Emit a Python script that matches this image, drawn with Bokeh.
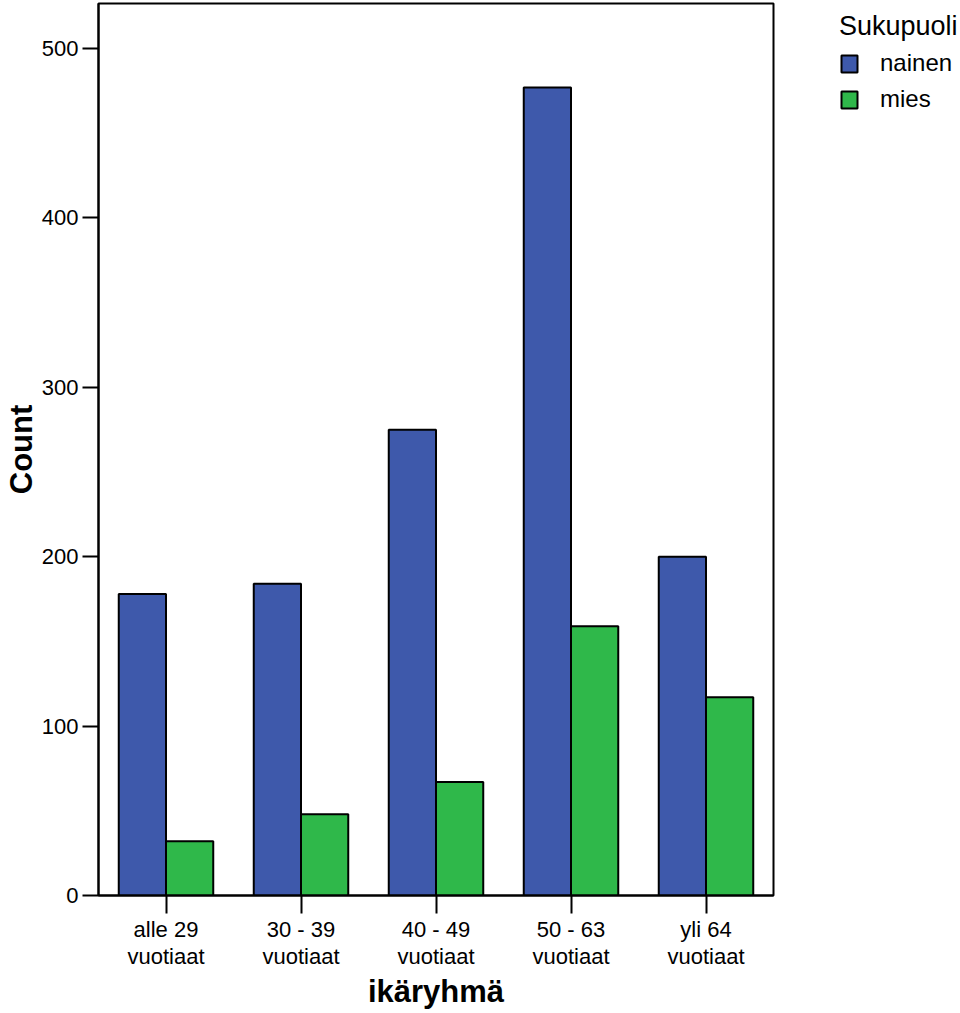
from bokeh.plotting import figure
from bokeh.models import ColumnDataSource, Legend, LegendItem, Range1d, FactorRange
from bokeh.transform import dodge
from bokeh.embed import file_html
from bokeh.resources import INLINE

categories = ["alle 29\nvuotiaat", "30 - 39\nvuotiaat", "40 - 49\nvuotiaat",
              "50 - 63\nvuotiaat", "yli 64\nvuotiaat"]
nainen = [178, 184, 275, 477, 200]
mies = [32, 48, 67, 159, 117]
series_names = ["nainen", "mies"]
colors = ["#3e59ab", "#2fb84a"]
y_ticks = [0, 100, 200, 300, 400, 500]

FONT = "Liberation Sans"

src = ColumnDataSource(dict(cat=categories, nainen=nainen, mies=mies))

p = figure(x_range=FactorRange(factors=categories, range_padding=0),
           y_range=Range1d(0, 526.6),
           frame_width=675, frame_height=892,
           min_border_left=80, min_border_right=180,
           min_border_top=3, min_border_bottom=100,
           output_backend="svg", toolbar_location=None)

bw = 0.35
r1 = p.vbar(x=dodge("cat", -bw / 2, range=p.x_range), top="nainen", width=bw,
            source=src, fill_color=colors[0], line_color="black", line_width=2)
r2 = p.vbar(x=dodge("cat", bw / 2, range=p.x_range), top="mies", width=bw,
            source=src, fill_color=colors[1], line_color="black", line_width=2)

p.xgrid.visible = False
p.ygrid.visible = False
p.outline_line_color = "black"
p.outline_line_width = 2

for ax in (p.xaxis, p.yaxis):
    ax.major_tick_in = 0
    ax.major_tick_line_width = 2
    ax.major_tick_line_color = "black"
    ax.axis_line_width = 2
    ax.axis_line_color = "black"
    ax.major_label_text_font = FONT
    ax.major_label_text_font_size = "22px"
    ax.major_label_text_color = "black"
    ax.axis_label_text_font = FONT
    ax.axis_label_text_font_size = "31px"
    ax.axis_label_text_font_style = "bold"
    ax.axis_label_text_color = "black"

p.yaxis.ticker = y_ticks
p.yaxis.minor_tick_line_color = None
p.yaxis.major_tick_out = 16
p.yaxis.major_label_standoff = 4
p.yaxis.axis_label = "Count"
p.yaxis.axis_label_standoff = 0

p.xaxis.major_tick_out = 18
p.xaxis.major_label_standoff = 3
p.xaxis.major_label_text_line_height = 1.1
p.xaxis.axis_label = "ikäryhmä"
p.xaxis.axis_label_standoff = 2

legend = Legend(items=[LegendItem(label=series_names[0], renderers=[r1]),
                       LegendItem(label=series_names[1], renderers=[r2])],
                title="Sukupuoli", location=(66, 782),
                title_text_font=FONT, title_text_font_size="27px",
                title_text_font_style="normal", title_text_color="black",
                title_standoff=7,
                label_text_font=FONT, label_text_font_size="24px",
                label_text_color="black",
                glyph_width=20, glyph_height=21, spacing=8, label_standoff=21,
                padding=0, margin=0, border_line_color=None,
                background_fill_alpha=0)
p.add_layout(legend, "right")

open("out.html", "w").write(file_html(p, INLINE))
